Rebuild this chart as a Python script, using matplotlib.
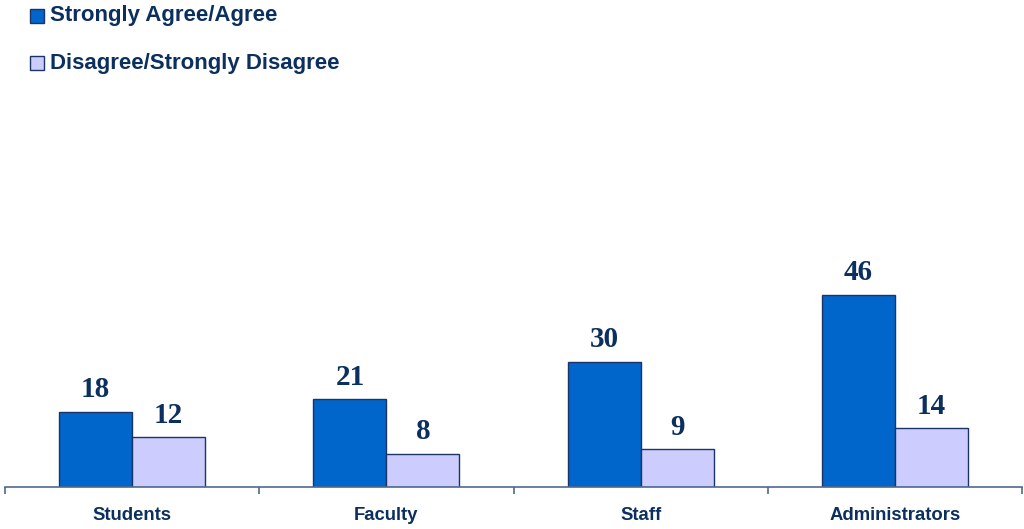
import matplotlib
matplotlib.use('Agg')
import matplotlib.pyplot as plt
from matplotlib.patches import Rectangle
import numpy as np

categories = ['Students', 'Faculty', 'Staff', 'Administrators']
agree = [18, 21, 30, 46]
disagree = [12, 8, 9, 14]
series_names = ['Strongly Agree/Agree', 'Disagree/Strongly Disagree']

navy = '#0B2F5E'
dark_blue = '#0066CC'
light_blue = '#CCCCFF'
edge = '#1A3466'

fig = plt.figure(figsize=(10.24, 5.29), dpi=100)
ax = fig.add_axes([5 / 1024, 1 - 487 / 529, 1017 / 1024, 418 / 529])

x = np.arange(len(categories))
w = 0.287
b1 = ax.bar(x - w / 2, agree, w, color=dark_blue, edgecolor=edge, linewidth=1)
b2 = ax.bar(x + w / 2, disagree, w, color=light_blue, edgecolor=edge, linewidth=1)

for bars in (b1, b2):
    for r in bars:
        ax.annotate(str(int(r.get_height())), (r.get_x() + r.get_width() / 2, r.get_height()),
                    xytext=(0, 6), textcoords='offset points', ha='center', va='bottom',
                    fontsize=21, fontweight='bold', family='Liberation Serif', color=navy)

ax.set_xlim(-0.5, len(categories) - 0.5)
ax.set_ylim(0, 100)
for s in ['top', 'right', 'left']:
    ax.spines[s].set_visible(False)
ax.spines['bottom'].set_color('#4F6A8F')
ax.spines['bottom'].set_linewidth(1.2)
ax.set_yticks([])
ax.set_xticks(np.arange(len(categories) + 1) - 0.5, minor=False)
ax.set_xticklabels([''] * (len(categories) + 1))
ax.tick_params(axis='x', direction='out', length=5, color='#4F6A8F', width=1.2)
for i, c in enumerate(categories):
    ax.text(i, -0.068, c, transform=ax.get_xaxis_transform(), ha='center', va='center',
            fontsize=13.3, fontweight='bold', family='Liberation Sans', color=navy)

# legend by hand
for i, (name, col) in enumerate(zip(series_names, [dark_blue, light_blue])):
    yc = 1 - (16 + 47 * i) / 529
    fig.patches.append(Rectangle((30 / 1024, yc - 7 / 529), 14 / 1024, 14 / 529,
                                 transform=fig.transFigure, facecolor=col, edgecolor=edge, linewidth=1))
    fig.text(50 / 1024, yc, name, ha='left', va='center', fontsize=16, fontweight='bold',
             family='Liberation Sans', color=navy)

fig.savefig('out.png', dpi=100)
